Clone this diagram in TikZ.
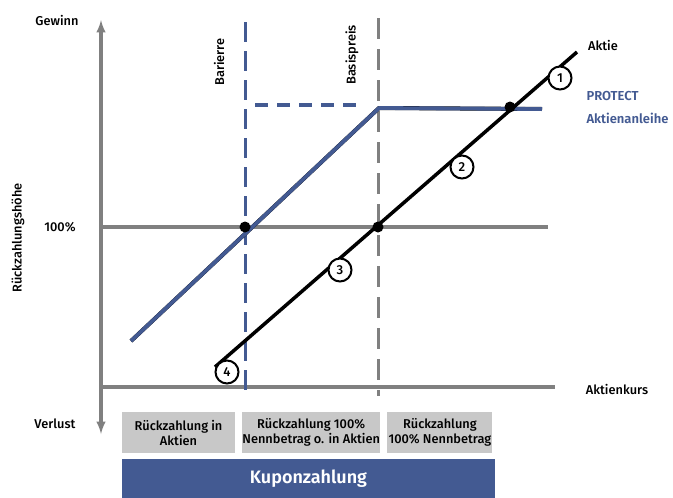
\documentclass[tikz,border=0pt]{standalone}
\usepackage{fontspec}
\setmainfont{Fira Sans}[UprightFont=* Medium, BoldFont=* SemiBold]
\usepackage{xcolor}
\usepackage{tikz}
\usetikzlibrary{positioning, calc, arrows}
\definecolor{protblue}{RGB}{67,90,146}
\definecolor{axisgray}{RGB}{128,128,128}
\definecolor{boxgray}{RGB}{200,200,200}

\tikzset{
	axisline/.style={draw=axisgray, line width=3.2pt},
	barline/.style={draw=protblue, line width=3pt, dash pattern=on 20pt off 9pt},
	capline/.style={draw=protblue, line width=3.5pt, dash pattern=on 13pt off 9pt},
	strikeline/.style={draw=axisgray, line width=3pt, dash pattern=on 21pt off 10pt},
	protline/.style={line width=4pt, line join=round},
	aktline/.style={draw=black, line width=3.5pt},
	dot/.style={circle, fill=black, inner sep=0pt, minimum size=11pt},
	numcirc/.style={circle, draw=black, line width=2pt, fill=white, inner sep=0pt, minimum size=23pt, font=\fontsize{13}{15}\selectfont},
	infobox/.style={fill=boxgray, align=center, minimum height=41pt, inner sep=0pt},
	kupon/.style={fill=protblue, text=white, font=\fontsize{18}{20}\selectfont\bfseries, minimum width=373pt, minimum height=39pt}
}

\begin{document}
\begin{tikzpicture}[x=1pt, y=-1pt, font=\fontsize{12.8}{15}\selectfont]
	\useasboundingbox (0,0) rectangle (673,498);
	
	% axes
	\coordinate (ytop) at (101,20);
	\coordinate (ybot) at (101,434);
	\coordinate (xl) at (101,387);
	\coordinate (xr) at (555,387);
	\coordinate (hl) at (101,227);
	\coordinate (hr) at (548,227);
	\draw [axisline] (xl) -- (xr);
	\draw [axisline] (hl) -- (hr);
	\draw [axisline, latex-latex] (ybot) -- (ytop);
	
	% barrier and strike
	\coordinate (bartop) at (245,22);
	\coordinate (barbot) at (245,398);
	\coordinate (capl) at (255,105);
	\coordinate (capr) at (364,105);
	\coordinate (striketop) at (378,18);
	\coordinate (strikebot) at (378,396);
	\draw [barline] (bartop) -- (barbot);
	\draw [capline] (capl) -- (capr);
	\draw [strikeline] (striketop) -- (strikebot);
	
	% payoff lines
	\coordinate (p0) at (131,341);
	\coordinate (pk) at (379,108);
	\coordinate (p1) at (542,109);
	\coordinate (a0) at (215,367);
	\coordinate (a1) at (577,52);
	\draw [protline, black] (p0) -- (pk) -- (p1);
	\draw [protline, draw=protblue, line width=3.8pt, shift={(-2pt,2.6pt)}] (p0) -- (pk) -- (p1);
	\draw [aktline] (a0) -- (a1);
	
	\node [dot] (dbar) at (245,227) {};
	\node [dot] (dstrike) at (378,227) {};
	\node [dot] (dcap) at (510,107) {};
	
	\node [numcirc] (n1) at (560,78) {1};
	\node [numcirc] (n2) at (462,167) {2};
	\node [numcirc] (n3) at (340,270) {3};
	\node [numcirc] (n4) at (227,372) {4};
	
	% labels
	\node (gewinn) at (57,20) {Gewinn};
	\node (verlust) at (55,424) {Verlust};
	\node (hundert) at (60,227) {100\%};
	\node [rotate=90] (yhoehe) at (18,238) {Rückzahlungshöhe};
	\node (kurs) at (617,389) {Aktienkurs};
	\node (aktie) at (603,45) {Aktie};
	\node [anchor=west, text=protblue, font=\fontsize{13}{15}\selectfont\bfseries] (prot) at (583,96) {PROTECT};
	\node [anchor=west, text=protblue, font=\fontsize{13}{15}\selectfont\bfseries] (anleihe) at (583,118) {Aktienanleihe};
	\node [rotate=90] (barlabel) at (219,62) {Barierre};
	\node [rotate=90] (strikelabel) at (352,55) {Basispreis};
	
	% boxes
	\node [infobox, minimum width=113pt] (box1) at (178.5,432.5) {Rückzahlung in\\Aktien};
	\node [infobox, minimum width=136pt, right=7pt of box1] (box2) {Rückzahlung 100\%\\Nennbetrag o. in Aktien};
	\node [infobox, minimum width=105pt, right=7pt of box2] (box3) {Rückzahlung\\100\% Nennbetrag};
	\node [kupon] (kup) at (308.5,478.5) {Kuponzahlung};
\end{tikzpicture}
\end{document}
